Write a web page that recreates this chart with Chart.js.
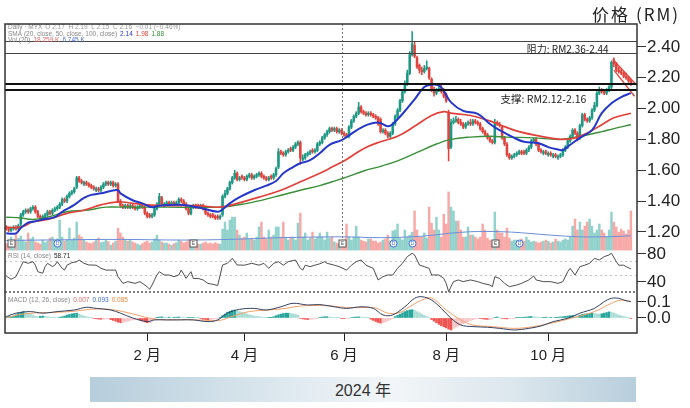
<!DOCTYPE html>
<html>
<head>
<meta charset="utf-8">
<script src="https://cdn.jsdelivr.net/npm/chart.js@4.4.1/dist/chart.umd.min.js"></script>
<style>
  html, body { margin: 0; padding: 0; background: #fff; }
  #wrap { position: relative; width: 690px; height: 408px; overflow: hidden; }
  #chart { position: absolute; left: 0; top: 0; }
  #unit { position: absolute; right: 10px; top: 1px; font: 17px "Noto Sans CJK SC", sans-serif; color: #222; letter-spacing: 2px; }
  #year { position: absolute; left: 90px; top: 377px; width: 546px; height: 25px; line-height: 25px; text-align: center;
          background: linear-gradient(to right, #b6cddb, #dde8ef 35%, #f3f6f8 55%, #dbe6ed 78%, #b8cedc);
          font: 16px "Liberation Sans", "Noto Sans CJK SC", sans-serif; color: #333; }
</style>
</head>
<body>
<div id="wrap">
  <canvas id="chart" width="690" height="408"></canvas>
  <div id="unit">价格 (RM)</div>
  <div id="year">2024 年</div>
</div>
<script>
// daily candles, Nov 2023 - Nov 2024 (index = trading day)
const open = [
  1.23,1.22,1.21,1.22,1.23,1.22,1.25,1.31,1.33,1.34,
  1.33,1.35,1.36,1.33,1.30,1.29,1.30,1.31,1.33,1.32,
  1.34,1.35,1.36,1.38,1.41,1.40,1.43,1.45,1.46,1.49,
  1.55,1.53,1.51,1.52,1.51,1.50,1.49,1.47,1.48,1.47,
  1.49,1.51,1.52,1.51,1.52,1.50,1.51,1.40,1.37,1.36,
  1.37,1.36,1.37,1.36,1.35,1.36,1.37,1.36,1.32,1.31,
  1.30,1.31,1.35,1.38,1.42,1.37,1.38,1.39,1.38,1.39,
  1.38,1.39,1.41,1.40,1.38,1.35,1.32,1.36,1.37,1.37,
  1.36,1.37,1.35,1.32,1.31,1.31,1.30,1.30,1.29,1.31,
  1.43,1.45,1.48,1.52,1.55,1.58,1.54,1.56,1.55,1.54,
  1.56,1.57,1.55,1.56,1.57,1.58,1.56,1.55,1.54,1.56,
  1.55,1.57,1.62,1.72,1.71,1.70,1.72,1.74,1.73,1.75,
  1.77,1.78,1.67,1.68,1.70,1.71,1.73,1.72,1.73,1.77,
  1.78,1.81,1.83,1.85,1.87,1.86,1.87,1.85,1.86,1.84,
  1.83,1.82,1.88,1.92,1.95,1.97,2.01,1.98,1.97,1.96,
  1.97,1.96,1.95,1.94,1.93,1.85,1.86,1.84,1.82,1.84,
  1.90,1.95,1.99,2.05,2.11,2.16,2.23,2.35,2.41,2.33,
  2.28,2.25,2.24,2.26,2.26,2.19,2.12,2.10,2.12,2.13,
  2.11,2.09,1.97,1.75,1.91,1.92,1.93,1.91,1.90,1.88,
  1.90,1.91,1.90,1.92,1.91,1.90,1.87,1.85,1.83,1.81,
  1.79,1.78,1.91,1.90,1.88,1.81,1.77,1.70,1.68,1.69,
  1.70,1.71,1.72,1.72,1.71,1.73,1.75,1.79,1.80,1.77,
  1.73,1.71,1.72,1.70,1.71,1.69,1.70,1.68,1.69,1.70,
  1.73,1.75,1.79,1.82,1.86,1.84,1.81,1.89,1.96,1.93,
  1.92,1.94,1.99,2.02,2.10,2.12,2.11,2.10,2.12,2.14,
  2.31,2.29,2.25,2.24,2.23,2.21,2.20,2.18
];
const high = [
  1.24,1.23,1.23,1.24,1.24,1.25,1.32,1.34,1.35,1.35,
  1.36,1.37,1.37,1.34,1.31,1.31,1.32,1.34,1.34,1.35,
  1.36,1.37,1.39,1.42,1.42,1.44,1.46,1.47,1.49,1.56,
  1.56,1.54,1.53,1.53,1.52,1.51,1.50,1.49,1.49,1.50,
  1.52,1.53,1.53,1.53,1.53,1.52,1.52,1.41,1.38,1.38,
  1.38,1.38,1.38,1.37,1.37,1.38,1.38,1.37,1.33,1.32,
  1.32,1.36,1.39,1.45,1.43,1.39,1.40,1.40,1.40,1.40,
  1.40,1.42,1.42,1.41,1.39,1.36,1.37,1.38,1.38,1.38,
  1.38,1.38,1.36,1.33,1.32,1.32,1.31,1.31,1.31,1.44,
  1.47,1.49,1.53,1.56,1.60,1.59,1.56,1.57,1.56,1.57,
  1.58,1.58,1.57,1.58,1.59,1.59,1.57,1.56,1.56,1.57,
  1.58,1.62,1.74,1.73,1.72,1.73,1.74,1.75,1.76,1.78,
  1.79,1.79,1.70,1.71,1.72,1.73,1.74,1.74,1.78,1.79,
  1.82,1.84,1.86,1.88,1.88,1.88,1.88,1.87,1.87,1.85,
  1.84,1.89,1.93,1.96,1.98,2.04,2.02,1.99,1.98,1.98,
  1.98,1.97,1.96,1.95,1.94,1.87,1.87,1.85,1.85,1.91,
  1.96,2.00,2.06,2.12,2.18,2.25,2.37,2.50,2.43,2.34,
  2.29,2.27,2.28,2.31,2.27,2.20,2.14,2.13,2.15,2.15,
  2.13,2.10,1.99,1.93,1.94,1.95,1.94,1.93,1.91,1.91,
  1.92,1.93,1.93,1.93,1.92,1.91,1.88,1.86,1.84,1.82,
  1.80,1.93,1.92,1.91,1.89,1.82,1.78,1.71,1.70,1.71,
  1.72,1.73,1.73,1.73,1.74,1.76,1.80,1.81,1.81,1.78,
  1.74,1.73,1.73,1.72,1.72,1.71,1.71,1.70,1.71,1.74,
  1.76,1.80,1.83,1.87,1.87,1.85,1.90,1.97,1.97,1.94,
  1.95,2.00,2.04,2.11,2.14,2.13,2.12,2.13,2.15,2.31,
  2.33,2.30,2.27,2.26,2.24,2.23,2.21,2.19
];
const low = [
  1.21,1.20,1.20,1.21,1.21,1.21,1.24,1.30,1.32,1.32,
  1.32,1.34,1.32,1.29,1.28,1.28,1.29,1.30,1.31,1.31,
  1.33,1.34,1.35,1.37,1.39,1.39,1.42,1.44,1.45,1.48,
  1.52,1.51,1.50,1.50,1.49,1.48,1.47,1.46,1.46,1.46,
  1.48,1.50,1.50,1.50,1.49,1.49,1.39,1.36,1.35,1.35,
  1.35,1.35,1.35,1.34,1.34,1.35,1.35,1.31,1.29,1.29,
  1.29,1.30,1.34,1.37,1.37,1.36,1.37,1.37,1.37,1.37,
  1.37,1.38,1.39,1.37,1.34,1.31,1.31,1.35,1.35,1.35,
  1.35,1.34,1.31,1.30,1.29,1.29,1.28,1.28,1.28,1.30,
  1.42,1.44,1.47,1.51,1.54,1.53,1.53,1.54,1.53,1.53,
  1.55,1.54,1.54,1.55,1.56,1.55,1.54,1.53,1.53,1.54,
  1.54,1.56,1.61,1.70,1.69,1.69,1.71,1.72,1.72,1.74,
  1.76,1.64,1.66,1.67,1.69,1.70,1.71,1.71,1.72,1.76,
  1.77,1.80,1.82,1.84,1.85,1.85,1.84,1.84,1.83,1.82,
  1.81,1.81,1.87,1.91,1.94,1.96,1.97,1.96,1.95,1.95,
  1.95,1.94,1.93,1.89,1.84,1.84,1.83,1.81,1.81,1.83,
  1.89,1.94,1.98,2.04,2.10,2.15,2.22,2.34,2.33,2.26,
  2.23,2.22,2.23,2.25,2.19,2.11,2.08,2.09,2.11,2.10,
  2.07,2.04,1.66,1.74,1.90,1.91,1.90,1.89,1.87,1.87,
  1.89,1.89,1.89,1.90,1.89,1.86,1.84,1.82,1.80,1.78,
  1.77,1.77,1.89,1.88,1.80,1.76,1.69,1.67,1.67,1.68,
  1.69,1.70,1.70,1.70,1.70,1.72,1.74,1.78,1.76,1.72,
  1.71,1.70,1.70,1.69,1.69,1.68,1.68,1.67,1.68,1.69,
  1.72,1.74,1.78,1.81,1.83,1.79,1.80,1.88,1.92,1.91,
  1.91,1.93,1.98,2.01,2.09,2.10,2.09,2.09,2.11,2.13,
  2.27,2.24,2.23,2.22,2.20,2.19,2.17,2.15
];
const close = [
  1.22,1.21,1.22,1.23,1.22,1.24,1.31,1.33,1.34,1.33,
  1.35,1.36,1.33,1.30,1.29,1.30,1.31,1.33,1.32,1.34,
  1.35,1.36,1.38,1.41,1.40,1.43,1.45,1.46,1.48,1.55,
  1.53,1.52,1.52,1.51,1.50,1.49,1.48,1.48,1.47,1.49,
  1.51,1.52,1.51,1.52,1.50,1.51,1.40,1.37,1.36,1.37,
  1.36,1.37,1.36,1.35,1.36,1.37,1.36,1.32,1.30,1.30,
  1.31,1.35,1.38,1.43,1.38,1.38,1.39,1.38,1.39,1.38,
  1.39,1.41,1.40,1.38,1.35,1.32,1.36,1.37,1.36,1.36,
  1.37,1.35,1.32,1.31,1.30,1.30,1.29,1.29,1.30,1.43,
  1.45,1.48,1.52,1.55,1.58,1.54,1.55,1.55,1.54,1.56,
  1.57,1.55,1.56,1.57,1.58,1.56,1.55,1.54,1.55,1.55,
  1.57,1.61,1.72,1.71,1.70,1.72,1.73,1.73,1.75,1.77,
  1.78,1.68,1.68,1.70,1.71,1.72,1.72,1.73,1.77,1.78,
  1.81,1.83,1.85,1.87,1.86,1.87,1.85,1.86,1.84,1.83,
  1.82,1.88,1.92,1.95,1.97,2.01,1.98,1.97,1.96,1.97,
  1.96,1.95,1.94,1.90,1.85,1.86,1.84,1.82,1.84,1.90,
  1.95,1.99,2.05,2.11,2.16,2.23,2.35,2.42,2.34,2.27,
  2.25,2.24,2.26,2.27,2.20,2.12,2.10,2.12,2.13,2.11,
  2.08,2.05,1.74,1.91,1.92,1.93,1.91,1.90,1.88,1.90,
  1.91,1.90,1.92,1.91,1.90,1.87,1.85,1.83,1.81,1.79,
  1.78,1.91,1.90,1.89,1.81,1.77,1.70,1.68,1.69,1.70,
  1.71,1.72,1.71,1.71,1.73,1.75,1.79,1.80,1.77,1.73,
  1.72,1.72,1.71,1.71,1.70,1.70,1.69,1.69,1.70,1.73,
  1.75,1.79,1.82,1.86,1.84,1.80,1.89,1.96,1.93,1.92,
  1.94,1.99,2.02,2.10,2.12,2.11,2.10,2.12,2.14,2.30,
  2.29,2.25,2.24,2.23,2.21,2.20,2.18,2.16
];
// volume, thousand
const volume = [
  3.0,2.5,6.1,4.2,8.0,5.5,6.6,4.7,3.8,8.0,
  5.2,6.1,3.8,3.3,2.8,4.7,3.5,4.2,5.6,6.1,
  4.7,5.2,14.0,6.1,4.2,4.7,10.3,4.7,5.6,13.1,
  7.0,6.1,4.7,3.8,3.3,3.0,3.8,4.7,5.6,3.5,
  3.8,4.7,4.0,2.3,3.3,4.2,10.3,8.0,6.1,4.7,
  4.2,4.7,3.8,3.3,2.8,2.3,3.0,3.8,4.2,3.3,
  3.8,5.2,7.0,4.7,3.8,3.3,3.3,2.8,2.3,3.0,
  3.5,4.7,4.2,3.3,3.8,4.7,3.5,4.7,3.3,2.8,
  2.8,3.3,3.8,3.0,3.3,2.8,3.5,3.0,2.8,9.8,
  13.1,9.4,14.0,15.4,15.4,9.4,7.0,5.6,6.1,8.0,
  5.2,5.6,4.7,6.1,10.8,13.1,6.1,5.2,9.4,6.1,
  7.0,10.8,10.8,6.1,13.1,5.6,4.7,6.1,6.1,4.7,
  12.6,17.3,6.1,8.0,4.7,5.6,8.4,5.2,6.1,8.0,
  6.1,4.7,8.4,5.6,6.1,3.8,3.3,3.0,3.8,4.7,
  12.2,6.1,4.7,6.1,11.2,6.1,4.7,4.2,3.8,5.2,
  5.2,4.2,4.2,3.3,3.8,4.7,5.2,7.0,4.2,8.9,
  9.4,12.2,5.6,4.7,9.4,6.1,7.0,8.4,18.3,9.4,
  6.1,6.1,8.0,5.6,20.1,12.6,9.4,15.4,9.4,6.1,
  16.8,12.2,27.2,20.1,18.3,13.6,13.6,9.4,6.1,6.1,
  10.8,7.0,7.0,6.1,5.2,6.1,12.2,9.4,5.6,4.7,
  4.2,17.8,9.4,8.0,8.0,6.1,10.3,5.6,4.2,4.7,
  4.7,3.8,5.2,4.2,6.1,4.7,3.8,4.2,3.8,3.3,
  3.8,4.2,4.7,4.2,3.3,3.8,5.2,4.2,3.8,4.7,
  5.2,4.7,6.1,11.2,14.5,9.4,13.1,9.4,11.2,13.1,
  14.5,11.2,8.0,9.4,12.2,9.4,8.0,6.1,9.4,17.8,
  13.1,10.8,8.4,9.8,8.9,7.5,9.4,18.3
];
const volMaDays = [0,22,47,72,92,113,138,154,171,182,191,204,212,224,236,249,257];
const volMa = [4.5,4.8,5.0,4.7,5.0,5.8,6.2,5.8,6.5,7.8,8.6,8.6,8.1,7.0,6.2,6.3,6.7];

const ma20Days = [0,4,6,9,11,15,20,23,28,32,35,39,43,46,47,52,56,60,63,72,80,87,89,92,96,102,107,111,114,118,
  121,125,129,133,138,140,147,153,157,159,163,168,172,175,178,180,183,188,194,199,203,209,213,219,223,227,229,232,236,241,245,249,253,257];
const ma20 = [1.19,1.19,1.225,1.26,1.265,1.28,1.295,1.33,1.375,1.42,1.44,1.45,1.465,1.47,1.45,1.405,1.385,1.36,1.37,1.375,
  1.355,1.33,1.345,1.385,1.425,1.47,1.50,1.53,1.58,1.62,1.645,1.665,1.71,1.765,1.795,1.815,1.885,1.91,1.885,1.90,
  1.965,2.06,2.14,2.155,2.15,2.115,2.04,1.985,1.965,1.90,1.86,1.81,1.785,1.775,1.75,1.735,1.73,1.765,1.81,1.86,1.97,2.035,2.075,2.10];
const ma50Days = [0,6,11,17,25,32,39,46,52,58,66,79,88,95,104,113,121,129,134,140,147,154,161,168,175,180,183,191,199,203,211,220,228,234,240,245,250,257];
const ma50 = [1.23,1.23,1.265,1.28,1.32,1.34,1.375,1.395,1.385,1.375,1.37,1.37,1.36,1.385,1.425,1.47,1.525,1.58,1.62,1.67,
  1.74,1.785,1.82,1.885,1.955,1.98,1.97,1.955,1.92,1.895,1.85,1.82,1.80,1.81,1.85,1.895,1.94,1.97];
const ma100Days = [0,6,11,17,25,33,41,47,55,66,88,99,110,121,129,134,140,147,154,161,169,177,183,191,199,206,217,228,236,245,250,257];
const ma100 = [1.295,1.29,1.28,1.295,1.33,1.34,1.36,1.36,1.36,1.36,1.36,1.385,1.425,1.47,1.50,1.525,1.555,1.595,1.625,1.66,
  1.715,1.77,1.80,1.815,1.82,1.815,1.81,1.80,1.82,1.85,1.87,1.895];

const rsiDays = [0,2,4,6,7,9,11,12,13,15,16,17,19,20,21,23,24,25,27,29,30,32,34,37,39,41,45,46,48,50,
  53,55,58,59,60,62,63,65,67,69,71,72,74,76,77,79,81,83,85,87,89,91,93,95,98,101,104,106,108,110,
  112,114,116,119,121,122,123,125,127,129,131,132,135,137,140,142,144,146,148,151,153,155,157,159,161,163,165,167,168,170,
  172,174,175,178,180,181,182,184,186,188,191,194,196,199,200,201,203,205,207,210,212,215,217,218,221,224,227,229,231,232,
  234,236,238,240,242,244,246,248,249,251,252,254,255,257];
const rsi = [48.6,43.8,47.6,61.9,69,66.7,69,64,54.7,52.4,61.9,66.7,62,64,69,59.5,57,64,67.6,69,71.4,66.7,64.3,64,59.5,57,57,47.6,38,40.5,
  38,40.5,33.3,29.5,35.7,50,54.7,50,50,47.6,50,57,45.2,54.7,45,45,42.9,38,36.7,35,64.3,66.7,73.8,64.3,64,66.7,64,66.7,59.5,66.7,
  69,64,69,71.4,59.5,57,64,61.9,64,66,69,66.7,64,61.9,57,64,69,71.4,64,59.5,42.9,47.6,50,50,59.5,66.7,76.2,81,78.6,64.3,
  61.9,59.5,50,50,45.2,38,26.2,40.5,42.9,40.5,42.9,40.5,38,35.7,33.3,47.6,45,38,33.3,35.7,38,42.9,48.6,42.9,40.5,40.5,38,40.5,54.7,59.5,
  50,61.9,64,66.7,73.8,71.4,76.2,78.6,81,69,64,64,61.9,58.7];
const rsiBands = [70, 50];

const macdDays = [0,4,10,15,21,28,33,37,43,47,52,58,61,66,72,77,83,87,91,96,102,107,113,118,124,129,135,140,146,151,
  155,159,164,168,171,175,179,183,187,192,198,203,209,215,220,225,231,236,242,246,249,252,254,257];
const macdLine = [0.008,0.03,0.04,0.03,0.04,0.05,0.067,0.06,0.05,0.03,0.0,-0.023,-0.012,-0.012,-0.012,-0.012,-0.023,-0.012,0.03,0.054,
  0.06,0.05,0.07,0.092,0.081,0.084,0.07,0.06,0.07,0.06,0.019,0.019,0.07,0.123,0.133,0.112,0.06,-0.002,-0.044,-0.054,
  -0.058,-0.065,-0.075,-0.065,-0.05,-0.023,-0.002,0.03,0.06,0.102,0.123,0.123,0.112,0.102];
const signalDays = [0,5,12,20,28,35,42,48,54,60,66,74,82,88,93,100,108,115,121,128,134,140,146,152,157,162,167,171,175,181,
  187,192,200,209,217,225,233,242,249,253,257];
const signalLine = [0.0,0.02,0.032,0.035,0.042,0.055,0.055,0.04,0.018,-0.005,-0.012,-0.01,-0.015,-0.015,0.01,0.04,0.05,0.06,0.075,0.078,
  0.075,0.065,0.065,0.063,0.03,0.035,0.08,0.112,0.125,0.05,-0.012,-0.044,-0.054,-0.065,-0.054,-0.03,0.0,0.04,0.092,0.112,0.102];
const macdHist = [
  .005,.008,.01,.012,.02,.03,.035,.04,.035,.03,
  .025,.015,.01,.008,.01,.012,.01,.008,.006,.005,
  .004,.003,.005,.008,.012,.018,.022,.026,.028,.03,
  .025,.018,.012,.008,.005,.002,-.003,-.005,-.007,-.008,
  -.008,-.006,-.005,-.01,-.015,-.02,-.026,-.03,-.028,-.025,
  -.02,-.015,-.012,-.01,-.008,-.012,-.018,-.025,-.03,-.028,
  -.02,-.01,.004,.006,.007,.006,.005,.005,.004,.004,
  .005,.006,.005,.003,.002,.002,.003,.004,.003,.002,
  -.004,-.008,-.01,-.012,-.01,-.008,-.006,-.004,.002,.015,
  .025,.035,.042,.048,.05,.045,.04,.035,.03,.025,
  .02,.016,.012,.01,.008,.006,.004,.002,.002,.004,
  .008,.014,.02,.024,.028,.03,.03,.028,.025,.022,
  .018,-.003,-.006,-.008,-.01,-.009,-.007,-.005,-.002,.004,
  .006,.008,.008,.006,.005,.004,.003,.002,-.002,-.004,
  -.003,-.002,.003,.005,.006,.007,.005,.004,.002,.001,
  -.008,-.015,-.022,-.028,-.032,-.03,-.025,-.018,-.01,-.004,
  .008,.016,.024,.032,.04,.046,.05,.052,.048,.04,
  .032,.024,.016,.008,.002,-.01,-.02,-.03,-.04,-.048,
  -.055,-.062,-.07,-.075,-.065,-.058,-.05,-.042,-.035,-.028,
  -.022,-.016,-.01,-.006,-.003,-.004,-.006,-.008,-.009,-.008,
  -.006,.004,.006,.004,-.003,-.005,-.006,-.005,-.004,-.002,
  .002,.003,.004,.005,.006,.008,.009,.008,.006,.005,
  .004,.004,.005,.004,.004,.003,.004,.005,.006,.008,
  .01,.012,.014,.016,.015,.014,.018,.022,.025,.026,
  .028,.03,.028,.025,.024,.026,.03,.034,.038,.036,
  .03,.024,.018,.014,.01,.006,.003,-.002
];

const monthTicks = [58, 98, 139, 181, 223];
const monthLabels = ["2 月", "4 月", "6 月", "8 月", "10 月"];
const priceTicks = [1.2, 1.4, 1.6, 1.8, 2.0, 2.2, 2.4];
const rsiTicks = [40, 80];
const macdTicks = [0, 0.1];
const resistance = [2.36, 2.44];
const support = [2.12, 2.16];
const wedgeUpper = [[249.5, 2.32], [259.5, 2.15]];
const wedgeLower = [[250, 2.25], [258.5, 2.08]];
const eventDays = [2, 21, 77, 138, 159, 167, 201, 211];
const eventKinds = ["E", "D", "E", "E", "D", "D", "E", "D"];
const markerDay = 138;

const FONT = "'Liberation Sans', 'Noto Sans CJK SC', sans-serif";
const UP = "#1e9884", DOWN = "#df433d";
const days = close.map((_, i) => i);
const isUp = i => close[i] >= open[i];
const pts = (d, v) => d.map((x, i) => ({ x: x, y: v[i] }));
const histColor = i => {
  const v = macdHist[i], p = i ? macdHist[i - 1] : 0;
  if (v >= 0) return v >= p ? "#26a69a" : "#a8dcd5";
  return v < p ? "#ef5350" : "#f8c4c6";
};

const yAxis = (extra) => Object.assign({
  type: "linear",
  position: "right",
  stack: "panes",
  border: { display: false },
  grid: { drawOnChartArea: false, drawTicks: true, tickLength: 9, tickColor: "#333", offset: false },
  ticks: { font: { family: FONT, size: 17 }, color: "#222", padding: 1, autoSkip: false },
  afterFit: s => { s.width = 53; }
}, extra);

const panelDecor = {
  id: "panelDecor",
  beforeDatasetsDraw(chart) {
    const { ctx, chartArea: a, scales } = chart;
    ctx.save();
    ctx.strokeStyle = "#c4c4c4";
    ctx.lineWidth = 1;
    ctx.setLineDash([2, 3]);
    rsiBands.forEach(v => {
      const py = Math.round(scales.yRsi.getPixelForValue(v)) + 0.5;
      ctx.beginPath(); ctx.moveTo(a.left, py); ctx.lineTo(a.right, py); ctx.stroke();
    });
    ctx.restore();
  },
  afterDatasetsDraw(chart) {
    const { ctx, chartArea: a, scales } = chart;
    const x = scales.x, y = scales.y, r = scales.yRsi, m = scales.yMacd;
    const hline = (py, color, w, dash) => {
      ctx.strokeStyle = color; ctx.lineWidth = w; ctx.setLineDash(dash);
      ctx.beginPath(); ctx.moveTo(a.left, py); ctx.lineTo(a.right, py); ctx.stroke();
    };
    ctx.save();

    // dotted date marker
    const mx = Math.round(x.getPixelForValue(markerDay)) + 0.5;
    ctx.strokeStyle = "#777"; ctx.lineWidth = 1; ctx.setLineDash([2, 2]);
    ctx.beginPath(); ctx.moveTo(mx, a.top); ctx.lineTo(mx, y.bottom - 6); ctx.stroke();

    // pane separator
    hline(r.bottom, "#555", 1.6, [2, 2]);

    // resistance and support
    resistance.forEach(v => hline(Math.round(y.getPixelForValue(v)) + 0.5, "#444", 1, []));
    support.forEach(v => hline(y.getPixelForValue(v), "#111", 2, []));

    ctx.setLineDash([]);
    ctx.fillStyle = "#222";
    ctx.textAlign = "center";
    ctx.textBaseline = "middle";
    ctx.font = "10px 'Noto Sans CJK SC', sans-serif";
    ctx.fillText("阻力: RM2.36-2.44", x.getPixelForValue(231), y.getPixelForValue((resistance[0] + resistance[1]) / 2) + 2);
    ctx.font = "10.5px 'Noto Sans CJK SC', sans-serif";
    ctx.fillText("支撑: RM2.12-2.16", x.getPixelForValue(221), y.getPixelForValue(support[0]) + 9);

    // event markers
    ctx.lineWidth = 1;
    eventDays.forEach((d, k) => {
      const px = Math.round(x.getPixelForValue(d)) + 0.5, py = y.bottom - 6.5;
      const c = eventKinds[k] === "D" ? "#3f6fd1" : "#555";
      ctx.fillStyle = "#fff"; ctx.strokeStyle = c;
      if (eventKinds[k] === "D") {
        ctx.beginPath(); ctx.arc(px, py, 3.5, 0, Math.PI * 2); ctx.fill(); ctx.stroke();
      } else {
        ctx.fillRect(px - 3.5, py - 3.5, 7, 7); ctx.strokeRect(px - 3.5, py - 3.5, 7, 7);
      }
      ctx.fillStyle = c;
      ctx.font = "5px 'Liberation Sans'";
      ctx.fillText(eventKinds[k], px, py + 0.5);
    });

    // pane captions
    const segs = (sx, sy, parts) => {
      parts.forEach(([t, c]) => { ctx.fillStyle = c; ctx.fillText(t, sx, sy); sx += ctx.measureText(t).width + 3; });
    };
    ctx.textAlign = "left";
    ctx.font = "6.5px 'Liberation Sans'";
    segs(a.left + 3, a.top + 3.5, [["Daily · MYX", "#888"], ["O 2.17  H 2.19  L 2.15  C 2.16  −0.01 (−0.46%)", "#999"]]);
    segs(a.left + 3, a.top + 10, [["SMA (20, close, 50, close, 100, close)", "#888"], ["2.14", "#2437c9"], ["1.98", "#e0413a"], ["1.88", "#3a8f3a"]]);
    segs(a.left + 3, a.top + 16.5, [["Vol (20)", "#888"], ["18.259 K", "#e26b6b"], ["6.745 K", "#4d6fd0"]]);
    segs(a.left + 3, r.top + 6, [["RSI (14, close)", "#888"], ["58.71", "#222"]]);
    segs(a.left + 3, m.top + 8, [["MACD (12, 26, close)", "#888"], ["0.007", "#e26b6b"], ["0.093", "#3f6fd1"], ["0.085", "#f08a3c"]]);

    // frame
    ctx.strokeStyle = "#333"; ctx.lineWidth = 1.5;
    ctx.strokeRect(a.left, a.top, a.right - a.left, a.bottom - a.top);
    ctx.restore();
  }
};

new Chart(document.getElementById("chart"), {
  type: "bar",
  data: {
    datasets: [
      { type: "bar", label: "Volume", yAxisID: "yVol", order: 20, grouped: false, barThickness: 1.8,
        data: days.map(i => ({ x: i, y: volume[i] })),
        backgroundColor: days.map(i => isUp(i) ? "rgba(38,166,154,0.5)" : "rgba(239,83,80,0.5)") },
      { type: "line", label: "Vol MA", yAxisID: "yVol", order: 19, data: pts(volMaDays, volMa),
        borderColor: "#6b8fd8", borderWidth: 1, pointRadius: 0, tension: 0.35 },
      { type: "bar", label: "Wick", yAxisID: "y", order: 12, grouped: false, barThickness: 0.9,
        data: days.map(i => ({ x: i, y: [low[i], high[i]] })),
        backgroundColor: days.map(i => isUp(i) ? UP : DOWN) },
      { type: "bar", label: "Body", yAxisID: "y", order: 11, grouped: false, barThickness: 1.9,
        data: days.map(i => ({ x: i, y: [open[i], close[i]] })),
        backgroundColor: days.map(i => isUp(i) ? UP : DOWN) },
      { type: "line", label: "SMA 100", yAxisID: "y", order: 5, data: pts(ma100Days, ma100),
        borderColor: "#3a8f3a", borderWidth: 1.4, pointRadius: 0, tension: 0.4 },
      { type: "line", label: "SMA 50", yAxisID: "y", order: 4, data: pts(ma50Days, ma50),
        borderColor: "#e0413a", borderWidth: 1.7, pointRadius: 0, tension: 0.4 },
      { type: "line", label: "SMA 20", yAxisID: "y", order: 3, data: pts(ma20Days, ma20),
        borderColor: "#2437c9", borderWidth: 2, pointRadius: 0, tension: 0.4 },
      { type: "line", label: "Wedge top", yAxisID: "y", order: 2, data: wedgeUpper.map(p => ({ x: p[0], y: p[1] })),
        borderColor: "#e3423c", borderWidth: 1.3, pointRadius: 0 },
      { type: "line", label: "Wedge bottom", yAxisID: "y", order: 2, data: wedgeLower.map(p => ({ x: p[0], y: p[1] })),
        borderColor: "#e3423c", borderWidth: 1.3, pointRadius: 0 },
      { type: "line", label: "RSI", yAxisID: "yRsi", order: 6, data: pts(rsiDays, rsi),
        borderColor: "#3a3a3a", borderWidth: 0.9, pointRadius: 0 },
      { type: "bar", label: "Histogram", yAxisID: "yMacd", order: 9, grouped: false, barThickness: 1.8,
        data: days.map(i => ({ x: i, y: macdHist[i] })), backgroundColor: days.map(histColor) },
      { type: "line", label: "MACD", yAxisID: "yMacd", order: 7, data: pts(macdDays, macdLine),
        borderColor: "#33405f", borderWidth: 1, pointRadius: 0, tension: 0.35 },
      { type: "line", label: "Signal", yAxisID: "yMacd", order: 8, data: pts(signalDays, signalLine),
        borderColor: "#f2a06a", borderWidth: 1, pointRadius: 0, tension: 0.35 }
    ]
  },
  options: {
    responsive: false,
    animation: false,
    events: [],
    layout: { padding: { top: 24, left: 5, right: 0, bottom: 31 } },
    plugins: { legend: { display: false }, tooltip: { enabled: false } },
    scales: {
      x: {
        type: "linear", min: -0.5, max: 259.5, offset: false,
        border: { display: false },
        grid: { drawOnChartArea: false, drawTicks: true, tickLength: 8, tickColor: "#222", offset: false },
        afterBuildTicks: s => { s.ticks = monthTicks.map(v => ({ value: v })); },
        ticks: {
          autoSkip: false, maxRotation: 0, padding: 6, color: "#222",
          font: { family: FONT, size: 15 },
          callback: v => monthLabels[monthTicks.indexOf(v)] || ""
        },
        afterFit: s => { s.height = 44; }
      },
      y: yAxis({
        stackWeight: 226, min: 1.082, max: 2.549,
        afterBuildTicks: s => { s.ticks = priceTicks.map(v => ({ value: v })); },
        ticks: { font: { family: FONT, size: 17 }, color: "#222", padding: 1, autoSkip: false, callback: v => v.toFixed(2) }
      }),
      yRsi: yAxis({
        stackWeight: 42, min: 25.7, max: 85.7,
        afterBuildTicks: s => { s.ticks = rsiTicks.map(v => ({ value: v })); },
        ticks: { font: { family: FONT, size: 17 }, color: "#222", padding: 1, autoSkip: false, callback: v => String(v) }
      }),
      yMacd: yAxis({
        stackWeight: 41, min: -0.094, max: 0.1625,
        afterBuildTicks: s => { s.ticks = macdTicks.map(v => ({ value: v })); },
        ticks: { font: { family: FONT, size: 17 }, color: "#222", padding: 1, autoSkip: false, callback: v => v.toFixed(1) }
      }),
      yVol: { type: "linear", display: false, position: "left", min: -38.8, max: 105.8 }
    }
  },
  plugins: [panelDecor]
});
</script>
</body>
</html>
